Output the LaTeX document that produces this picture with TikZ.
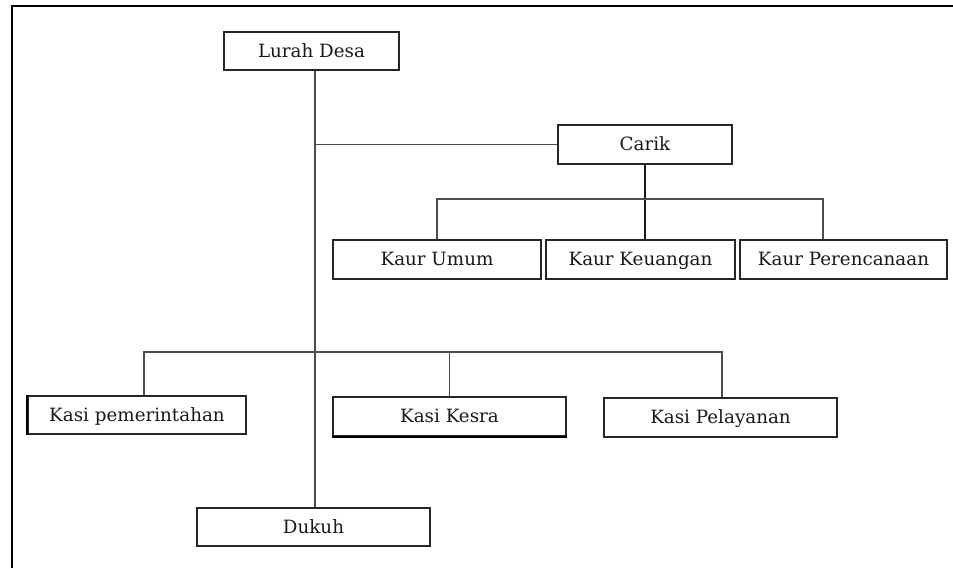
\documentclass[tikz,border=0pt]{standalone}
\usepackage{fontspec}
\setmainfont{DejaVu Serif}
\begin{document}
\begin{tikzpicture}[x=1pt,y=1pt,
  box/.style={draw=black!85,line width=1.4pt,rectangle,inner sep=0pt,
    font=\fontsize{18.3}{21}\selectfont,text=black!90,
    text height=15pt,text depth=3pt},
  conn/.style={draw=black!70,line width=1.6pt},
  frame/.style={draw=black,line width=2.8pt}]
\useasboundingbox (0,0) rectangle (953,-568);
\draw[frame] (12,-568) -- (12,-6) -- (953,-6);
% nodes
\node[box,minimum width=175,minimum height=38] (lurah) at (311.5,-51) {Lurah Desa};
\node[box,minimum width=174,minimum height=39] (carik) at (645,-144.5) {Carik};
\node[box,minimum width=208,minimum height=39] (kumum) at (437,-259.5) {Kaur Umum};
\node[box,minimum width=189,minimum height=39] (kkeu) at (640.5,-259.5) {Kaur Keuangan};
\node[box,minimum width=207,minimum height=39] (kper) at (843.5,-259.5) {Kaur Perencanaan};
\node[box,minimum width=218,minimum height=38] (kpem) at (137,-415) {Kasi pemerintahan};
\node[box,minimum width=233,minimum height=39] (kkes) at (449.5,-416.5) {Kasi Kesra};
\node[box,minimum width=233,minimum height=39] (kpel) at (720.5,-417.5) {Kasi Pelayanan};
\node[box,minimum width=233,minimum height=38] (dukuh) at (313.5,-527) {Dukuh};
% helper coordinates
\coordinate (t) at (315,0);
\coordinate (kb) at (0,-199);
\coordinate (kperx) at (823,0);
\coordinate (sb) at (0,-352);
\coordinate (kpemx) at (144,0);
\coordinate (kpelx) at (722,0);
% connectors
\draw[conn] (lurah.south -| t) -- (dukuh.north -| t);
\draw[conn] (t |- carik.west) -- (carik.west);
\draw[conn,draw=black!90,line width=2pt] (carik.south) -- (carik.south |- kkeu.north);
\draw[conn] (kumum.north) -- (kumum.north |- kb) -- (kperx |- kb) -- (kperx |- kper.north);
\draw[conn] (kpemx |- kpem.north) -- (kpemx |- sb) -- (kpelx |- sb) -- (kpelx |- kpel.north);
\draw[conn] (kkes.north) -- (kkes.north |- sb);
% heavier edges as in the reference
\draw[draw=black,line width=2.2pt] (kkes.south west) -- (kkes.south east);
\draw[draw=black,line width=2.2pt] (kpem.south west) -- (kpem.north west);
\end{tikzpicture}
\end{document}
